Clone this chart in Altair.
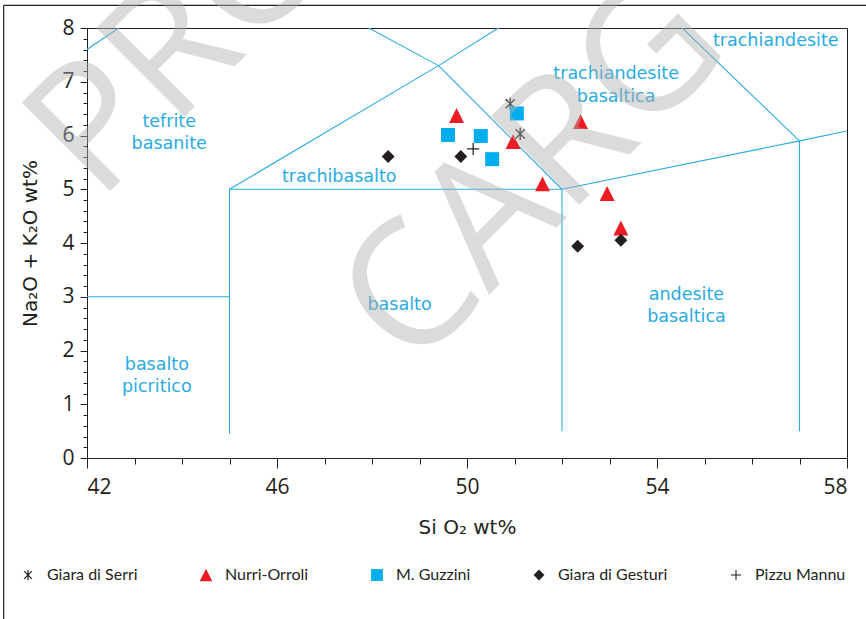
import altair as alt
import pandas as pd

# ---------------- data ----------------
series_names = ["Giara di Serri", "Nurri-Orroli", "M. Guzzini", "Giara di Gesturi", "Pizzu Mannu"]

serri_x = [50.91, 51.12]
serri_y = [6.59, 6.03]
nurri_x = [49.78, 50.97, 51.59, 52.39, 52.95, 53.24]
nurri_y = [6.37, 5.89, 5.10, 6.26, 4.92, 4.28]
guzzini_x = [49.60, 50.29, 50.53, 51.05]
guzzini_y = [6.01, 5.99, 5.56, 6.41]
gesturi_x = [48.34, 49.87, 52.33, 53.24]
gesturi_y = [5.61, 5.61, 3.94, 4.05]
mannu_x = [50.13]
mannu_y = [5.75]

# TAS diagram field boundaries (SiO2, Na2O+K2O)
seg_x1 = [41, 45, 45, 52, 52, 57, 57, 41, 45, 49.4, 49.4, 49.4, 53]
seg_y1 = [3, 0.45, 5, 0.5, 5, 0.5, 5.9, 7, 5, 7.3, 7.3, 7.3, 9.3]
seg_x2 = [45, 45, 52, 52, 57, 57, 63, 45, 49.4, 52, 53, 45, 57]
seg_y2 = [3, 5, 5, 5, 5.9, 5.9, 7, 9.4, 7.3, 5, 9.3, 9.4, 5.9]

# field names
field_text = ["tefrite", "basanite", "trachibasalto", "trachiandesite", "basaltica",
              "trachiandesite", "basalto", "andesite", "basaltica", "basalto", "picritico"]
field_x = [43.73, 43.73, 47.31, 53.14, 53.14, 56.50, 48.58, 54.62, 54.62, 43.47, 43.47]
field_y = [6.26, 5.85, 5.23, 7.14, 6.72, 7.75, 2.85, 3.03, 2.62, 1.73, 1.32]

x_ticks = list(range(42, 59))
y_ticks = [round(i * 0.2, 1) for i in range(41)]

# ---------------- tables ----------------
rows = []
for name, xs, ys in zip(series_names,
                        [serri_x, nurri_x, guzzini_x, gesturi_x, mannu_x],
                        [serri_y, nurri_y, guzzini_y, gesturi_y, mannu_y]):
    for a, b in zip(xs, ys):
        rows.append({"series": name, "sio2": a, "alk": b})
pts = pd.DataFrame(rows)
segs = pd.DataFrame({"x1": seg_x1, "y1": seg_y1, "x2": seg_x2, "y2": seg_y2})
fields = pd.DataFrame({"t": field_text, "x": field_x, "y": field_y})

BLUE = "#29ABE2"
INK = "#231F20"
FONT = "Open Sans"
TFONT = "DejaVu Sans"

xscale = alt.Scale(domain=[42, 58], nice=False, zero=False)
yscale = alt.Scale(domain=[0, 8], nice=False, zero=False)

x_axis = alt.Axis(
    values=x_ticks,
    labelExpr="datum.value % 4 == 2 ? datum.label : ''",
    tickSize={"condition": {"test": "datum.value % 4 == 2", "value": 10}, "value": 6},
    labelOverlap=False, labelFontSize=21, labelPadding=8, labelFont=FONT, labelColor=INK,
    title="Si O₂ wt%", titleFontSize=20, titleFont=TFONT, titleFontWeight="normal",
    titleColor=INK, titleY=69, titleBaseline="middle", grid=False,
)
y_axis = alt.Axis(
    values=y_ticks,
    labelExpr="abs(datum.value - round(datum.value)) < 0.01 ? format(datum.value, 'd') : ''",
    tickSize={"condition": {"test": "abs(datum.value - round(datum.value)) < 0.01", "value": 7}, "value": 4},
    labelOverlap=False, labelFontSize=21, labelPadding=6, labelFont=FONT, labelColor=INK,
    title="Na₂O + K₂O wt%", titleFontSize=20, titleFont=TFONT, titleFontWeight="normal",
    titleColor=INK, titleX=-57, titleY=215, titleAngle=270, titleAlign="center",
    titleBaseline="middle", grid=False,
)

lines = alt.Chart(segs).mark_rule(color=BLUE, strokeWidth=1.1, clip=True).encode(
    x=alt.X("x1:Q", scale=xscale, axis=x_axis),
    y=alt.Y("y1:Q", scale=yscale, axis=y_axis),
    x2="x2:Q",
    y2="y2:Q",
)

labels = alt.Chart(fields).mark_text(
    color=BLUE, font=TFONT, fontSize=17.5, align="center", baseline="middle"
).encode(
    x=alt.X("x:Q", scale=xscale, axis=x_axis),
    y=alt.Y("y:Q", scale=yscale, axis=y_axis),
    text="t:N",
)

# filled symbol outlines (unit coordinates)
asterisk = ("M-0.1,-0.88L0.1,-0.88L0.1,0.88L-0.1,0.88Z"
            "M-0.72,-0.58L-0.58,-0.72L0.72,0.58L0.58,0.72Z"
            "M0.58,-0.72L0.72,-0.58L-0.58,0.72L-0.72,0.58Z")
plus = ("M-0.86,-0.09L-0.09,-0.09L-0.09,-0.86L0.09,-0.86L0.09,-0.09L0.86,-0.09"
        "L0.86,0.09L0.09,0.09L0.09,0.86L-0.09,0.86L-0.09,0.09L-0.86,0.09Z")
tri = "M0,-1.07L1.07,1.07L-1.07,1.07Z"
square = "M-1,-1L1,-1L1,1L-1,1Z"
diamond = "M-0.92,0L0,-0.92L0.92,0L0,0.92Z"
shape_range = [asterisk, tri, square, diamond, plus]
color_range = [INK, "#ED1C24", "#00AEEF", INK, INK]

legend = alt.Legend(
    title=None, orient="none", legendX=-67, legendY=539, direction="horizontal",
    columns=5, gridAlign="each", columnPadding=60, labelFontSize=16, labelFont="Lato",
    labelColor=INK, symbolSize=140, labelOffset=11,
)

points = alt.Chart(pts).mark_point(filled=True, opacity=1, size=196).encode(
    x=alt.X("sio2:Q", scale=xscale, axis=x_axis),
    y=alt.Y("alk:Q", scale=yscale, axis=y_axis),
    color=alt.Color("series:N", scale=alt.Scale(domain=series_names, range=color_range), legend=legend),
    shape=alt.Shape("series:N", scale=alt.Scale(domain=series_names, range=shape_range), legend=legend),
)

dummy = pd.DataFrame({"k": [0]})
frame_left = alt.Chart(dummy).mark_rule(color=INK, strokeWidth=1.2).encode(
    x=alt.value(-83.3), y=alt.value(-22.7), y2=alt.value(600)
)
frame_top = alt.Chart(dummy).mark_rule(color=INK, strokeWidth=1.2).encode(
    x=alt.value(-83.3), x2=alt.value(800), y=alt.value(-22.7)
)

wm_style = dict(angle=315, align="left", baseline="alphabetic", fontSize=175, font=FONT,
                color="#b0b0b0", opacity=0.45)
wm1 = alt.Chart(dummy).mark_text(**wm_style).encode(
    x=alt.value(11), y=alt.value(175), text=alt.value("PROGETTO")
)
wm2 = alt.Chart(dummy).mark_text(**wm_style).encode(
    x=alt.value(324), y=alt.value(345), text=alt.value("CARG")
)

chart = alt.layer(frame_left, frame_top, lines, labels, points, wm1, wm2).properties(
    width=760, height=430,
    autosize=alt.AutoSizeParams(type="none"),
    padding={"left": 87, "top": 28, "right": 19, "bottom": 161},
).configure_view(stroke=INK, strokeWidth=1).configure_axis(
    domainColor=INK, tickColor=INK, domainWidth=1, tickWidth=1
)

chart.save("out.html", embed_options={"renderer": "svg", "actions": False})
